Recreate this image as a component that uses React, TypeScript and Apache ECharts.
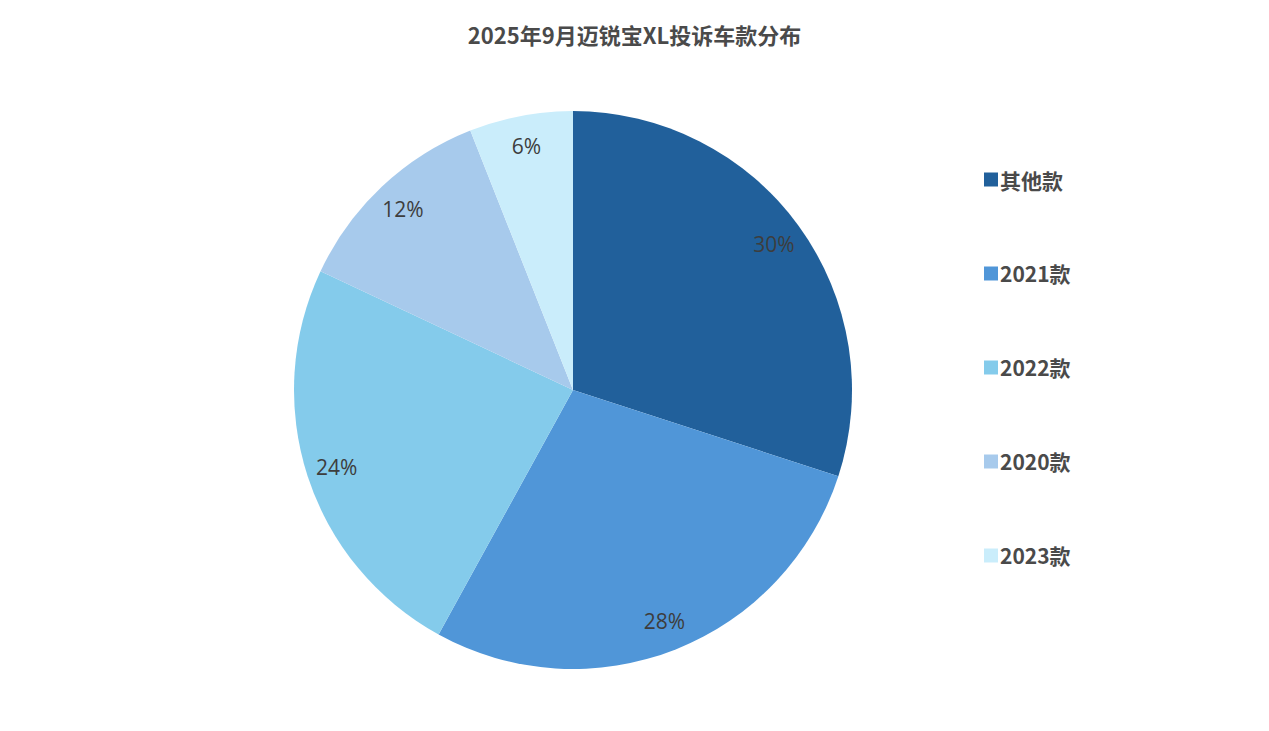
import React, { useEffect, useRef } from "react";
import * as echarts from "echarts";

const titleText = "2025年9月迈锐宝XL投诉车款分布";
const categories = ["其他款", "2021款", "2022款", "2020款", "2023款"];
const values = [30, 28, 24, 12, 6];
const colors = ["#21609B", "#5096D8", "#84CBEB", "#A7CAEC", "#CAEDFB"];

export default function App() {
  const ref = useRef<HTMLDivElement>(null);
  useEffect(() => {
    if (!ref.current) return;
    const chart = echarts.init(ref.current, null, { renderer: "svg" });
    const data = categories.map((name, i) => ({
      name,
      value: values[i],
      itemStyle: { color: colors[i] },
    }));
    chart.setOption({
      animation: false,
      backgroundColor: "#ffffff",
      title: {
        text: titleText,
        left: "center",
        top: 18,
        textStyle: {
          fontFamily: "'Noto Sans CJK SC', sans-serif",
          fontSize: 22,
          fontWeight: "bold",
          color: "#4a4a4a",
        },
      },
      legend: {
        orient: "vertical",
        left: 979,
        top: 164,
        itemWidth: 14,
        itemHeight: 14,
        itemGap: 73,
        icon: "rect",
        data: categories,
        textStyle: {
          fontFamily: "'Noto Sans CJK SC', sans-serif",
          fontSize: 21,
          fontWeight: "bold",
          color: "#4a4a4a",
          padding: [0, 0, 0, -3],
        },
      },
      series: [
        {
          type: "pie",
          center: [573, 390],
          radius: [0, 279],
          startAngle: 90,
          clockwise: true,
          label: { show: false },
          labelLine: { show: false },
          silent: true,
          data,
        },
        {
          type: "pie",
          center: [573, 390],
          radius: [212, 279],
          startAngle: 90,
          clockwise: true,
          silent: true,
          itemStyle: { color: "rgba(0,0,0,0)" },
          label: {
            show: true,
            position: "inside",
            formatter: "{d}%",
            fontFamily: "'Open Sans', sans-serif",
            fontSize: 21,
            color: "#3d3d3d",
          },
          labelLine: { show: false },
          data: categories.map((name, i) => ({
            name,
            value: values[i],
            itemStyle: { color: "rgba(0,0,0,0)" },
          })),
        },
      ],
    });
    return () => chart.dispose();
  }, []);
  return (
    <div
      ref={ref}
      style={{ position: "fixed", left: 0, top: 0, width: 1269, height: 731 }}
    />
  );
}
